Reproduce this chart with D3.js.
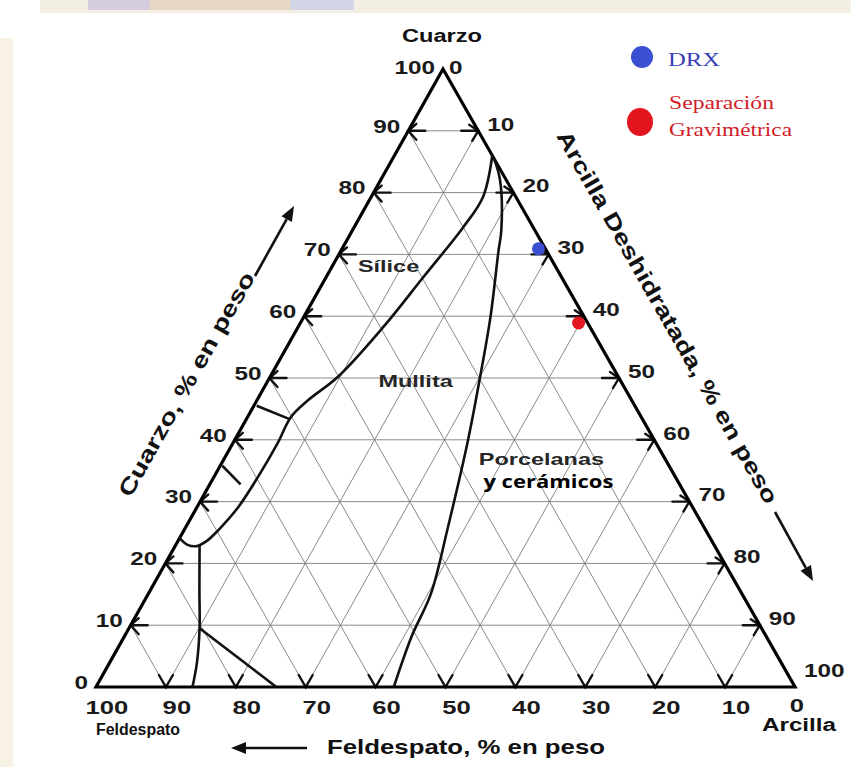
<!DOCTYPE html>
<html>
<head>
<meta charset="utf-8">
<script src="https://cdn.jsdelivr.net/npm/d3@7"></script>
<style>
  body { margin: 0; background: #fff; }
  svg { display: block; }
  svg { font-family: "Liberation Sans", Arial, sans-serif; }
</style>
</head>
<body>
<div id="chart"></div>
<script>
// ternary values are [cuarzo, arcilla]; feldespato = 100 - cuarzo - arcilla
const gridSteps = [10, 20, 30, 40, 50, 60, 70, 80, 90];
const tickValues = [0, 10, 20, 30, 40, 50, 60, 70, 80, 90, 100];

// boundary Silice / Mullita, ending in the small loop on the cuarzo side
const siliceMullita = [[86, 14], [79.3, 16], [74.4, 15.6], [66.3, 13.9], [58.3, 12.2], [50.2, 9.7],
  [46.4, 7.3], [43.7, 6.2], [39.5, 6.4], [34, 6.3], [29.1, 5.9], [25.4, 4.9], [23.6, 4.1],
  [22.8, 3.1], [23, 1.7], [24.1, 0]];
// boundary Mullita / Porcelanas
const mullitaPorcelana = [[85.5, 14.5], [82, 17.1], [73.9, 21.3], [70.7, 22.5], [59.9, 26.7],
  [50, 30.1], [39.6, 33.5], [25.9, 37.5], [15.2, 40.4], [8.1, 41.1], [0, 42.6]];
const feldespatoLine = [[22.8, 3.5], [15.7, 7.0], [9.5, 10.1], [3.9, 12.5], [0, 13.8]];
const diagonalLine = [[9.5, 10.1], [0, 25.8]];
const hatches = [[[45.5, 0.4], [43.3, 6.3]], [[35.8, 0.3], [32.8, 4.4]]];

const regionNames = ["Sílice", "Mullita", "Porcelanas"];
const regionPos = [[67.8, 8.2], [49.2, 21.3], [36.7, 45.5]];

const seriesNames = ["DRX", "Separación Gravimétrica"];
const seriesColors = ["#3b4fd2", "#e3161f"];
const samples = [[70.9, 28.1], [58.9, 39.8]];

const svg = d3.select("#chart").append("svg")
  .attr("width", 851)
  .attr("height", 767);

// faint page remnants
svg.append("rect").attr("x", 40).attr("y", 0).attr("width", 811).attr("height", 13).attr("fill", "#f4efe3");
svg.append("rect").attr("x", 88).attr("y", 0).attr("width", 62).attr("height", 10).attr("fill", "#d6cce0");
svg.append("rect").attr("x", 150).attr("y", 0).attr("width", 140).attr("height", 10).attr("fill", "#e8d7c2");
svg.append("rect").attr("x", 290).attr("y", 0).attr("width", 64).attr("height", 10).attr("fill", "#d3d5e6");
svg.append("rect").attr("x", 0).attr("y", 38).attr("width", 13).attr("height", 729).attr("fill", "#f8f2e4");

const qY = d3.scaleLinear().domain([0, 100]).range([687, 69]);   // cuarzo -> y
const qX = d3.scaleLinear().domain([0, 100]).range([96, 443]);   // left edge x
const aX = d3.scaleLinear().domain([0, 100]).range([0, 699]);    // arcilla offset
const proj = (q, a) => [qX(q) + aX(a), qY(q)];

function stretch(sel, k) {
  sel.each(function () {
    const w = this.getComputedTextLength();
    d3.select(this).attr("textLength", w * k).attr("lengthAdjust", "spacingAndGlyphs");
  });
}

// grid
const grid = svg.append("g").attr("stroke", "#7d7d7d").attr("stroke-width", 0.9);
gridSteps.forEach(k => {
  const segs = [
    [proj(k, 0), proj(k, 100 - k)],
    [proj(0, k), proj(100 - k, k)],
    [proj(0, 100 - k), proj(100 - k, 0)]
  ];
  segs.forEach(s => grid.append("line")
    .attr("x1", s[0][0]).attr("y1", s[0][1])
    .attr("x2", s[1][0]).attr("y2", s[1][1]));
});

// tick arrows
const arrows = svg.append("g").attr("stroke", "#111").attr("stroke-width", 2.4)
  .attr("fill", "none").attr("stroke-linecap", "round");
gridSteps.forEach(k => {
  let t = proj(k, 0);
  arrows.append("path").attr("d", `M${t[0] + 17},${t[1]}L${t[0]},${t[1]}M${t[0] + 8},${t[1] - 7}L${t[0]},${t[1]}L${t[0] + 8},${t[1] + 9}`);
  t = proj(100 - k, k);
  arrows.append("path").attr("d", `M${t[0] - 17},${t[1]}L${t[0]},${t[1]}M${t[0] - 9},${t[1] - 6}L${t[0]},${t[1]}L${t[0] - 6},${t[1] + 10}`);
  t = proj(0, 100 - k);
  arrows.append("path").attr("d", `M${t[0] - 7},${t[1] - 12}L${t[0]},${t[1]}L${t[0] + 7},${t[1] - 12}`);
});

// outline
svg.append("path")
  .attr("d", d3.line()([proj(100, 0), proj(0, 0), proj(0, 100)]) + "Z")
  .attr("fill", "none").attr("stroke", "#000").attr("stroke-width", 3.2)
  .attr("stroke-linejoin", "miter");

// phase boundaries
const curve = d3.line()
  .x(d => proj(d[0], d[1])[0])
  .y(d => proj(d[0], d[1])[1])
  .curve(d3.curveCatmullRom.alpha(0.5));
const bounds = svg.append("g").attr("fill", "none").attr("stroke", "#111").attr("stroke-width", 2.6);
[siliceMullita, mullitaPorcelana, feldespatoLine, diagonalLine].forEach(c => bounds.append("path").attr("d", curve(c)));
hatches.forEach(h => bounds.append("path").attr("d", d3.line()(h.map(p => proj(p[0], p[1])))));

// tick labels
const lab = svg.append("g").attr("fill", "#1a1a1a").attr("font-weight", "bold").attr("font-size", 18);
tickValues.forEach(v => {
  const t = proj(v, 0);
  lab.append("text").attr("class", "tl").attr("x", t[0] - 8).attr("y", t[1] - (v === 100 ? 0 : 3))
    .attr("text-anchor", "end").attr("dominant-baseline", "middle").text(v);
  const r = proj(100 - v, v);
  lab.append("text").attr("class", "tl").attr("x", r[0] + (v === 0 ? 6 : 9)).attr("y", r[1] - (v === 100 ? 15 : v === 0 ? 0 : 5))
    .attr("dominant-baseline", "middle").text(v);
  const b = proj(0, 100 - v);
  lab.append("text").attr("class", "tl").attr("x", b[0] + (v === 0 ? 2 : 11)).attr("y", v === 0 ? 707 : 709)
    .attr("text-anchor", "middle").attr("dominant-baseline", "middle").attr("font-size", 19).text(v);
});
stretch(lab.selectAll("text.tl"), 1.35);

// corner and axis titles
const titles = svg.append("g").attr("fill", "#111").attr("font-weight", "bold");
titles.append("text").attr("x", 442).attr("y", 37).attr("text-anchor", "middle")
  .attr("dominant-baseline", "middle").attr("font-size", 18)
  .attr("textLength", 80).attr("lengthAdjust", "spacingAndGlyphs").text("Cuarzo");
titles.append("text").attr("x", 138).attr("y", 731).attr("text-anchor", "middle")
  .attr("dominant-baseline", "middle").attr("font-size", 16)
  .attr("textLength", 84).attr("lengthAdjust", "spacingAndGlyphs").text("Feldespato");
titles.append("text").attr("x", 799).attr("y", 726).attr("text-anchor", "middle")
  .attr("dominant-baseline", "middle").attr("font-size", 18)
  .attr("textLength", 74).attr("lengthAdjust", "spacingAndGlyphs").text("Arcilla");
titles.append("text").attr("x", 466).attr("y", 748).attr("text-anchor", "middle")
  .attr("dominant-baseline", "middle").attr("font-size", 21)
  .attr("textLength", 278).attr("lengthAdjust", "spacingAndGlyphs").text("Feldespato, % en peso");
titles.append("text").attr("transform", "translate(188,385) rotate(-60.5)").attr("text-anchor", "middle")
  .attr("dominant-baseline", "middle").attr("font-size", 22)
  .attr("textLength", 254).attr("lengthAdjust", "spacingAndGlyphs").text("Cuarzo, % en peso");
titles.append("text").attr("transform", "translate(666,318) rotate(60.4)").attr("text-anchor", "middle")
  .attr("dominant-baseline", "middle").attr("font-size", 22)
  .attr("textLength", 425).attr("lengthAdjust", "spacingAndGlyphs").text("Arcilla Deshidratada, % en peso");

// direction arrows
function arrow(x1, y1, x2, y2) {
  const ang = Math.atan2(y2 - y1, x2 - x1), L = 15, W = 6;
  const bx = x2 - L * Math.cos(ang), by = y2 - L * Math.sin(ang);
  svg.append("line").attr("x1", x1).attr("y1", y1).attr("x2", bx).attr("y2", by)
    .attr("stroke", "#111").attr("stroke-width", 2.6);
  svg.append("path").attr("fill", "#111")
    .attr("d", `M${x2},${y2}L${bx + W * Math.sin(ang)},${by - W * Math.cos(ang)}L${bx - W * Math.sin(ang)},${by + W * Math.cos(ang)}Z`);
}
arrow(255, 276, 294, 206);
arrow(775, 512, 813, 581);
arrow(307, 748, 231, 748);

// region names
const reg = svg.append("g").attr("fill", "#262626").attr("font-weight", "bold").attr("font-size", 17);
regionNames.forEach((n, i) => {
  const p = proj(regionPos[i][0], regionPos[i][1]);
  reg.append("text").attr("x", p[0]).attr("y", p[1]).attr("text-anchor", "middle")
    .attr("dominant-baseline", "middle").text(n);
});
stretch(reg.selectAll("text"), 1.38);
const pc = proj(regionPos[2][0], regionPos[2][1]);
svg.append("text").attr("x", pc[0] + 7).attr("y", pc[1] + 23).attr("text-anchor", "middle")
  .attr("dominant-baseline", "middle").attr("font-size", 18).attr("font-weight", "bold")
  .style("font-family", "'Open Sans', 'Noto Sans', sans-serif")
  .attr("textLength", 130).attr("lengthAdjust", "spacingAndGlyphs").text("y cerámicos");

// samples
samples.forEach((s, i) => {
  const p = proj(s[0], s[1]);
  svg.append("circle").attr("cx", p[0]).attr("cy", p[1]).attr("r", 6.5).attr("fill", seriesColors[i]);
});

// legend
const serif = "'Liberation Serif', 'Times New Roman', serif";
const leg = svg.append("g").attr("font-size", 18);
leg.append("circle").attr("cx", 642).attr("cy", 57).attr("r", 11).attr("fill", seriesColors[0]);
leg.append("text").attr("x", 668).attr("y", 62).attr("dominant-baseline", "middle").attr("fill", "#3a3fb8")
  .style("font-family", serif)
  .attr("textLength", 52).attr("lengthAdjust", "spacingAndGlyphs").text(seriesNames[0]);
leg.append("ellipse").attr("cx", 640).attr("cy", 122).attr("rx", 13).attr("ry", 14).attr("fill", seriesColors[1]);
const words = seriesNames[1].split(" ");
leg.append("text").attr("x", 669).attr("y", 105).attr("dominant-baseline", "middle").attr("fill", "#d01c28")
  .style("font-family", serif)
  .attr("textLength", 105).attr("lengthAdjust", "spacingAndGlyphs").text(words[0]);
leg.append("text").attr("x", 669).attr("y", 132).attr("dominant-baseline", "middle").attr("fill", "#d01c28")
  .style("font-family", serif)
  .attr("textLength", 123).attr("lengthAdjust", "spacingAndGlyphs").text(words[1]);
</script>
</body>
</html>
